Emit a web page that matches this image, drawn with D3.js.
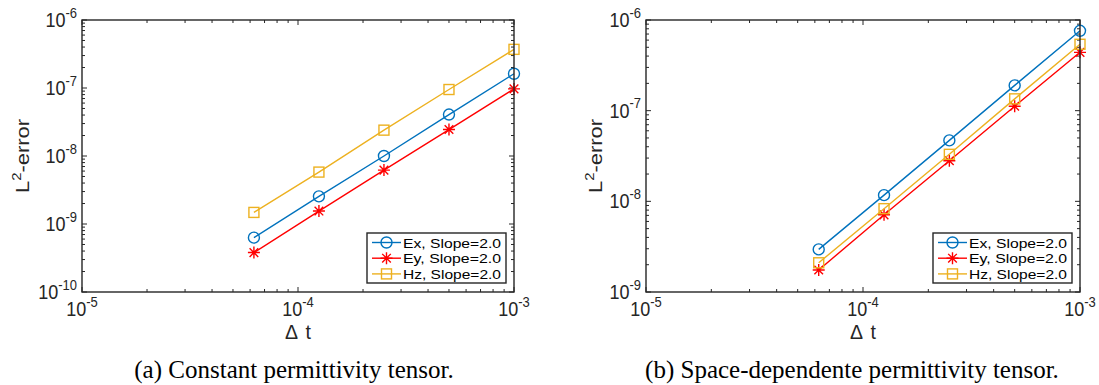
<!DOCTYPE html>
<html><head><meta charset="utf-8">
<script src="https://cdn.jsdelivr.net/npm/d3@7"></script>
<style>
html,body{margin:0;padding:0;background:#fff;}
svg{display:block;}
</style></head>
<body>
<svg id="chart" width="1099" height="385"></svg>
<script>
// ---- data ----
const dt = [1e-3, 5e-4, 2.5e-4, 1.25e-4, 6.25e-5];
const exA = [1.62e-7, 4.07e-8, 1.0e-8, 2.55e-9, 6.3e-10];
const eyA = [9.7e-8, 2.45e-8, 6.2e-9, 1.55e-9, 3.8e-10];
const hzA = [3.7e-7, 9.5e-8, 2.4e-8, 5.8e-9, 1.48e-9];
const exB = [7.6e-7, 1.9e-7, 4.7e-8, 1.17e-8, 2.95e-9];
const eyB = [4.4e-7, 1.12e-7, 2.8e-8, 7.1e-9, 1.75e-9];
const hzB = [5.4e-7, 1.35e-7, 3.3e-8, 8.3e-9, 2.1e-9];
const xTicks = [1e-5, 1e-4, 1e-3];
const xTickExp = ["-5", "-4", "-3"];
const yTicksA = [1e-10, 1e-9, 1e-8, 1e-7, 1e-6];
const yTickExpA = ["-10", "-9", "-8", "-7", "-6"];
const yTicksB = [1e-9, 1e-8, 1e-7, 1e-6];
const yTickExpB = ["-9", "-8", "-7", "-6"];
const seriesNames = ["Ex, Slope=2.0", "Ey, Slope=2.0", "Hz, Slope=2.0"];
const seriesColors = ["#0072BD", "#FF0000", "#EDB120"];
const seriesMarkers = ["circle", "asterisk", "square"];
const xLabel = "Δ t";
const captions = ["(a) Constant permittivity tensor.", "(b) Space-dependente permittivity tensor."];

const svg = d3.select("#chart");
const AX = "#262626";
const SANS = "'Liberation Sans', Arial, Helvetica, sans-serif";
const VS = 1.15; // vertical stretch of the figure text

function stext(g, x, y, size, rotate, vs) {
  const s = vs === undefined ? VS : vs;
  const tr = rotate ? `translate(${x},${y}) rotate(-90) scale(${s},1)` : `translate(${x},${y}) scale(1,${s})`;
  return g.append("text").attr("transform", tr).attr("font-family", SANS)
    .attr("font-size", size).attr("fill", AX);
}

function drawMarker(g, type, cx, cy, color) {
  if (type === "circle") {
    g.append("circle").attr("cx", cx).attr("cy", cy).attr("r", 5.5)
      .attr("fill", "none").attr("stroke", color).attr("stroke-width", 1.4);
  } else if (type === "square") {
    g.append("rect").attr("x", cx - 5).attr("y", cy - 5).attr("width", 10).attr("height", 10)
      .attr("fill", "none").attr("stroke", color).attr("stroke-width", 1.4);
  } else {
    const r = 6, d = r * 0.72;
    const p = `M${cx - r},${cy}L${cx + r},${cy}M${cx},${cy - r}L${cx},${cy + r}` +
      `M${cx - d},${cy - d}L${cx + d},${cy + d}M${cx - d},${cy + d}L${cx + d},${cy - d}`;
    g.append("path").attr("d", p).attr("stroke", color).attr("stroke-width", 1.4).attr("fill", "none");
  }
}

function drawPanel(cfg) {
  const g = svg.append("g");
  const x = d3.scaleLog().domain([xTicks[0], xTicks[xTicks.length - 1]]).range([cfg.x0, cfg.x1]);
  const y = d3.scaleLog().domain([cfg.yTicks[0], cfg.yTicks[cfg.yTicks.length - 1]]).range([cfg.y1, cfg.y0]);

  const minorX = [], minorY = [];
  for (let i = 0; i < xTicks.length - 1; i++) for (let k = 2; k <= 9; k++) minorX.push(xTicks[i] * k);
  for (let i = 0; i < cfg.yTicks.length - 1; i++) for (let k = 2; k <= 9; k++) minorY.push(cfg.yTicks[i] * k);

  const tk = g.append("g").attr("stroke", AX).attr("stroke-width", 1);
  const ML = 5, mL = 3;
  xTicks.forEach(v => {
    const px = x(v);
    tk.append("line").attr("x1", px).attr("x2", px).attr("y1", cfg.y1).attr("y2", cfg.y1 - ML);
    tk.append("line").attr("x1", px).attr("x2", px).attr("y1", cfg.y0).attr("y2", cfg.y0 + ML);
  });
  minorX.forEach(v => {
    const px = x(v);
    tk.append("line").attr("x1", px).attr("x2", px).attr("y1", cfg.y1).attr("y2", cfg.y1 - mL);
    tk.append("line").attr("x1", px).attr("x2", px).attr("y1", cfg.y0).attr("y2", cfg.y0 + mL);
  });
  cfg.yTicks.forEach(v => {
    const py = y(v);
    tk.append("line").attr("x1", cfg.x0).attr("x2", cfg.x0 + ML).attr("y1", py).attr("y2", py);
    tk.append("line").attr("x1", cfg.x1).attr("x2", cfg.x1 - ML).attr("y1", py).attr("y2", py);
  });
  minorY.forEach(v => {
    const py = y(v);
    tk.append("line").attr("x1", cfg.x0).attr("x2", cfg.x0 + mL).attr("y1", py).attr("y2", py);
    tk.append("line").attr("x1", cfg.x1).attr("x2", cfg.x1 - mL).attr("y1", py).attr("y2", py);
  });

  const line = d3.line().x((d, i) => x(dt[i])).y(d => y(d));
  cfg.series.forEach((s, si) => {
    g.append("path").datum(s).attr("d", line).attr("fill", "none")
      .attr("stroke", seriesColors[si]).attr("stroke-width", 1.4);
    s.forEach((v, i) => drawMarker(g, seriesMarkers[si], x(dt[i]), y(v), seriesColors[si]));
  });

  g.append("rect").attr("x", cfg.x0).attr("y", cfg.y0).attr("width", cfg.x1 - cfg.x0).attr("height", cfg.y1 - cfg.y0)
    .attr("fill", "none").attr("stroke", AX).attr("stroke-width", 1.4);

  xTicks.forEach((v, i) => {
    const t = stext(g, x(v), cfg.y1 + 24, 18).attr("text-anchor", "middle");
    t.append("tspan").text("10");
    t.append("tspan").attr("dy", -8).attr("font-size", 13).text(xTickExp[i]);
  });
  cfg.yTicks.forEach((v, i) => {
    const t = stext(g, cfg.x0 - 5, y(v) + 7, 18).attr("text-anchor", "end");
    t.append("tspan").text("10");
    t.append("tspan").attr("dy", -8).attr("font-size", 13).text(cfg.yTickExp[i]);
  });

  stext(g, (cfg.x0 + cfg.x1) / 2, cfg.y1 + 47, 19.5, false, 1).attr("text-anchor", "middle")
    .attr("word-spacing", 3).text(xLabel);
  const yl = stext(g, cfg.ylx, (cfg.y0 + cfg.y1) / 2, 19, true).attr("text-anchor", "middle");
  yl.append("tspan").text("L");
  yl.append("tspan").attr("dy", -8).attr("font-size", 13).text("2");
  yl.append("tspan").attr("dy", 8).text("-error");

  const lg = g.append("g");
  const L = cfg.legend;
  lg.append("rect").attr("x", L.x).attr("y", L.y).attr("width", L.w).attr("height", L.h)
    .attr("fill", "#fff").attr("stroke", AX).attr("stroke-width", 1.4);
  seriesNames.forEach((n, i) => {
    const cy = L.y + 9.5 + i * 15.7;
    lg.append("line").attr("x1", L.x + 5).attr("x2", L.x + 34).attr("y1", cy).attr("y2", cy)
      .attr("stroke", seriesColors[i]).attr("stroke-width", 1.4);
    drawMarker(lg, seriesMarkers[i], L.x + 19.5, cy, seriesColors[i]);
    lg.append("text").attr("x", L.x + 36).attr("y", cy + 5).attr("font-family", SANS)
      .attr("font-size", 13.6).attr("textLength", 98).attr("lengthAdjust", "spacingAndGlyphs")
      .attr("fill", "#000").text(n);
  });

  g.append("text").attr("x", cfg.capx).attr("y", 378).attr("text-anchor", "middle")
    .attr("font-family", "'Liberation Serif', 'Times New Roman', serif").attr("font-size", 25)
    .attr("fill", "#000").text(cfg.caption);
}

drawPanel({
  x0: 82, x1: 514, y0: 20, y1: 292,
  yTicks: yTicksA, yTickExp: yTickExpA,
  series: [exA, eyA, hzA],
  ylx: 29,
  legend: {x: 367, y: 233, w: 139, h: 50},
  capx: 294, caption: captions[0]
});
drawPanel({
  x0: 646, x1: 1080, y0: 20, y1: 292,
  yTicks: yTicksB, yTickExp: yTickExpB,
  series: [exB, eyB, hzB],
  ylx: 602,
  legend: {x: 933, y: 233, w: 139, h: 50},
  capx: 852, caption: captions[1]
});
</script>
</body></html>
